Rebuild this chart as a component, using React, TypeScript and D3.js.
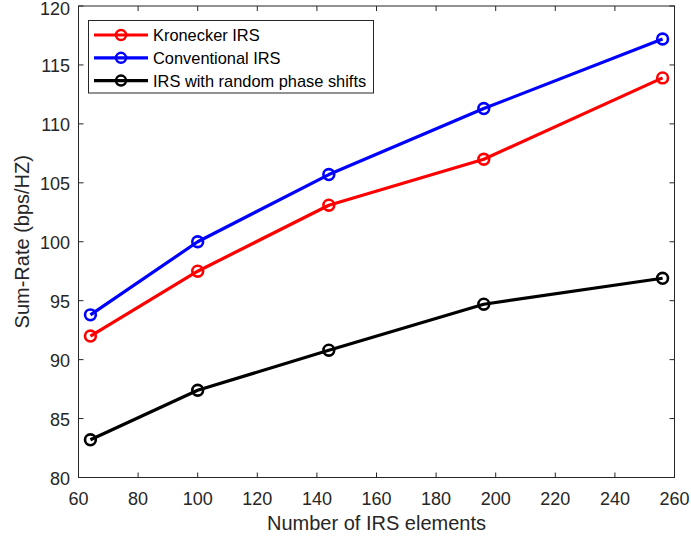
import React from "react";
import * as d3 from "d3";

const xValues = [64, 100, 144, 196, 256];
const kronecker = [92.0, 97.5, 103.1, 107.0, 113.9];
const conventional = [93.8, 100.0, 105.7, 111.3, 117.2];
const randomPhase = [83.2, 87.4, 90.8, 94.7, 96.9];
const seriesNames = ["Kronecker IRS", "Conventional IRS", "IRS with random phase shifts"];
const seriesColors = ["#ff0000", "#0000ff", "#000000"];
const xTicks = [60, 80, 100, 120, 140, 160, 180, 200, 220, 240, 260];
const yTicks = [80, 85, 90, 95, 100, 105, 110, 115, 120];
const xLabel = "Number of IRS elements";
const yLabel = "Sum-Rate (bps/HZ)";

export default function App() {
  const W = 691, H = 539;
  const L = 78.5, R = 674.5, T = 6, B = 477.5;
  const x = d3.scaleLinear().domain([60, 260]).range([L, R]);
  const y = d3.scaleLinear().domain([80, 120]).range([B, T]);
  const line = d3.line<number>().x((_, i) => x(xValues[i])).y((d) => y(d));
  const all = [kronecker, conventional, randomPhase];
  const axisColor = "#262626";
  const font = "Liberation Sans, Arial, sans-serif";
  const tl = 5;
  return (
    <svg width={W} height={H} style={{ position: "absolute", left: 0, top: 0, background: "#fff" }}>
      <rect x={0} y={0} width={W} height={H} fill="#fff" />
      {xTicks.map((t) => (
        <g key={"x" + t}>
          <line x1={x(t)} x2={x(t)} y1={B} y2={B - tl} stroke={axisColor} strokeWidth={1} />
          <line x1={x(t)} x2={x(t)} y1={T} y2={T + tl} stroke={axisColor} strokeWidth={1} />
          <text x={x(t)} y={505} textAnchor="middle" fontFamily={font} fontSize={18} fill={axisColor}>{t}</text>
        </g>
      ))}
      {yTicks.map((t) => (
        <g key={"y" + t}>
          <line x1={L} x2={L + tl} y1={y(t)} y2={y(t)} stroke={axisColor} strokeWidth={1} />
          <line x1={R} x2={R - tl} y1={y(t)} y2={y(t)} stroke={axisColor} strokeWidth={1} />
          <text x={70} y={Math.max(y(t) + 7, 15)} textAnchor="end" fontFamily={font} fontSize={18} fill={axisColor}>{t}</text>
        </g>
      ))}
      <rect x={L} y={T} width={R - L} height={B - T} fill="none" stroke={axisColor} strokeWidth={1} />
      {all.map((s, k) => (
        <g key={"s" + k}>
          <path d={line(s) || ""} fill="none" stroke={seriesColors[k]} strokeWidth={3.2} strokeLinejoin="round" />
          {s.map((v, i) => (
            <circle key={i} cx={x(xValues[i])} cy={y(v)} r={5.4} fill="none" stroke={seriesColors[k]} strokeWidth={2.6} />
          ))}
        </g>
      ))}
      <rect x={88.5} y={20.5} width={285} height={72.5} fill="#fff" stroke={axisColor} strokeWidth={1} />
      {seriesNames.map((n, k) => {
        const yy = 35 + k * 22.8;
        return (
          <g key={"l" + k}>
            <line x1={94} x2={148} y1={yy} y2={yy} stroke={seriesColors[k]} strokeWidth={3.2} />
            <circle cx={121} cy={yy} r={5} fill="none" stroke={seriesColors[k]} strokeWidth={2.5} />
            <text x={153} y={yy + 6} fontFamily={font} fontSize={16.4} fill="#000">{n}</text>
          </g>
        );
      })}
      <text x={(L + R) / 2} y={530} textAnchor="middle" fontFamily={font} fontSize={20} fill={axisColor}>{xLabel}</text>
      <text transform={`translate(29, ${(T + B) / 2}) rotate(-90)`} textAnchor="middle" fontFamily={font} fontSize={20} fill={axisColor}>{yLabel}</text>
    </svg>
  );
}
